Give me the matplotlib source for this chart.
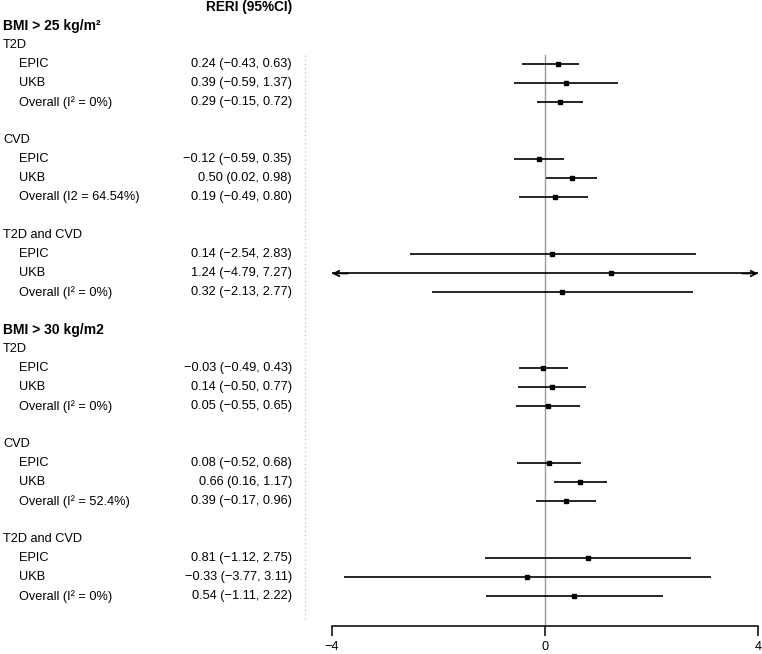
import matplotlib
matplotlib.use("Agg")
import matplotlib.pyplot as plt
import matplotlib.transforms as mtransforms

plt.rcParams['font.family'] = ['Liberation Sans', 'DejaVu Sans']

# ---- data ----
headers = ["BMI > 25 kg/m²", "BMI > 30 kg/m2"]
header_rows = [1, 17]

outcomes = ["T2D", "CVD", "T2D and CVD", "T2D", "CVD", "T2D and CVD"]
outcome_rows = [2, 7, 12, 18, 23, 28]

study_labels = ["EPIC", "UKB", "Overall (I² = 0%)",
                "EPIC", "UKB", "Overall (I2 = 64.54%)",
                "EPIC", "UKB", "Overall (I² = 0%)",
                "EPIC", "UKB", "Overall (I² = 0%)",
                "EPIC", "UKB", "Overall (I² = 52.4%)",
                "EPIC", "UKB", "Overall (I² = 0%)"]
study_rows = [3, 4, 5, 8, 9, 10, 13, 14, 15,
              19, 20, 21, 24, 25, 26, 29, 30, 31]
est = [0.24, 0.39, 0.29, -0.12, 0.50, 0.19, 0.14, 1.24, 0.32,
       -0.03, 0.14, 0.05, 0.08, 0.66, 0.39, 0.81, -0.33, 0.54]
lo = [-0.43, -0.59, -0.15, -0.59, 0.02, -0.49, -2.54, -4.79, -2.13,
      -0.49, -0.50, -0.55, -0.52, 0.16, -0.17, -1.12, -3.77, -1.11]
hi = [0.63, 1.37, 0.72, 0.35, 0.98, 0.80, 2.83, 7.27, 2.77,
      0.43, 0.77, 0.65, 0.68, 1.17, 0.96, 2.75, 3.11, 2.22]

xticks = [-4, 0, 4]
xlim = (-4, 4)

# ---- figure layout (pixel based) ----
W, H = 762, 654
fig = plt.figure(figsize=(W / 100, H / 100), dpi=100)
axis_px = 626           # y pixel of the bottom axis line
row0, dy = 7.5, 19      # pixel of row 0 and row spacing
ax = fig.add_axes([332 / W, (H - axis_px) / H, 426 / W, axis_px / H])
ax.set_xlim(*xlim)
ax.set_ylim((axis_px - row0) / dy, -row0 / dy)

for s in ["top", "right", "left"]:
    ax.spines[s].set_visible(False)
ax.spines["bottom"].set_bounds(xlim[0], xlim[1])
ax.spines["bottom"].set_linewidth(1.1)
ax.set_yticks([])
ax.set_xticks(xticks)
ax.set_xticklabels(["\u2212" + str(abs(t)) if t < 0 else str(t) for t in xticks])
ax.tick_params(axis="x", direction="out", length=7, width=1.1, pad=3.5, labelsize=9.2)

# reference line at zero
ax.plot([0, 0], [2.5, (axis_px - row0) / dy], color="#9a9a9a", lw=1, clip_on=False)

# confidence intervals and points
for r, e, l, h in zip(study_rows, est, lo, hi):
    l2, h2 = max(l, xlim[0]), min(h, xlim[1])
    ax.plot([l2, h2], [r, r], color="black", lw=1.2, solid_capstyle="butt")
    if l < xlim[0]:
        ax.annotate("", xy=(xlim[0], r), xytext=(xlim[0] + 0.3, r),
                    arrowprops=dict(arrowstyle="->", lw=1.2, color="black",
                                    shrinkA=0, shrinkB=0), annotation_clip=False)
    if h > xlim[1]:
        ax.annotate("", xy=(xlim[1], r), xytext=(xlim[1] - 0.3, r),
                    arrowprops=dict(arrowstyle="->", lw=1.2, color="black",
                                    shrinkA=0, shrinkB=0), annotation_clip=False)
    ax.plot(e, r, marker="s", color="black", ms=3.4, zorder=3)

# text columns
tr = mtransforms.blended_transform_factory(fig.transFigure, ax.transData)
ax.text(292 / W, 0, "RERI (95%CI)", transform=tr, ha="right", va="center",
        fontsize=9.8, fontweight="bold", clip_on=False)
for lab, r in zip(headers, header_rows):
    ax.text(3 / W, r, lab, transform=tr, ha="left", va="center",
            fontsize=10, fontweight="bold", clip_on=False)
for lab, r in zip(outcomes, outcome_rows):
    ax.text(3 / W, r, lab, transform=tr, ha="left", va="center",
            fontsize=9.2, clip_on=False)
for lab, r, e, l, h in zip(study_labels, study_rows, est, lo, hi):
    ax.text(19 / W, r, lab, transform=tr, ha="left", va="center",
            fontsize=9.2, clip_on=False)
    txt = "%.2f (%.2f, %.2f)" % (e, l, h)
    txt = txt.replace("-", "\u2212")
    ax.text(292 / W, r, txt, transform=tr, ha="right", va="center",
            fontsize=9.2, clip_on=False)

# dotted separator between text and plot
ax.plot([305 / W, 305 / W], [2.5, 32.2], transform=tr, color="#c8c8c8",
        lw=1, ls=(0, (1, 2)), clip_on=False)

fig.savefig("out.png", dpi=100)
